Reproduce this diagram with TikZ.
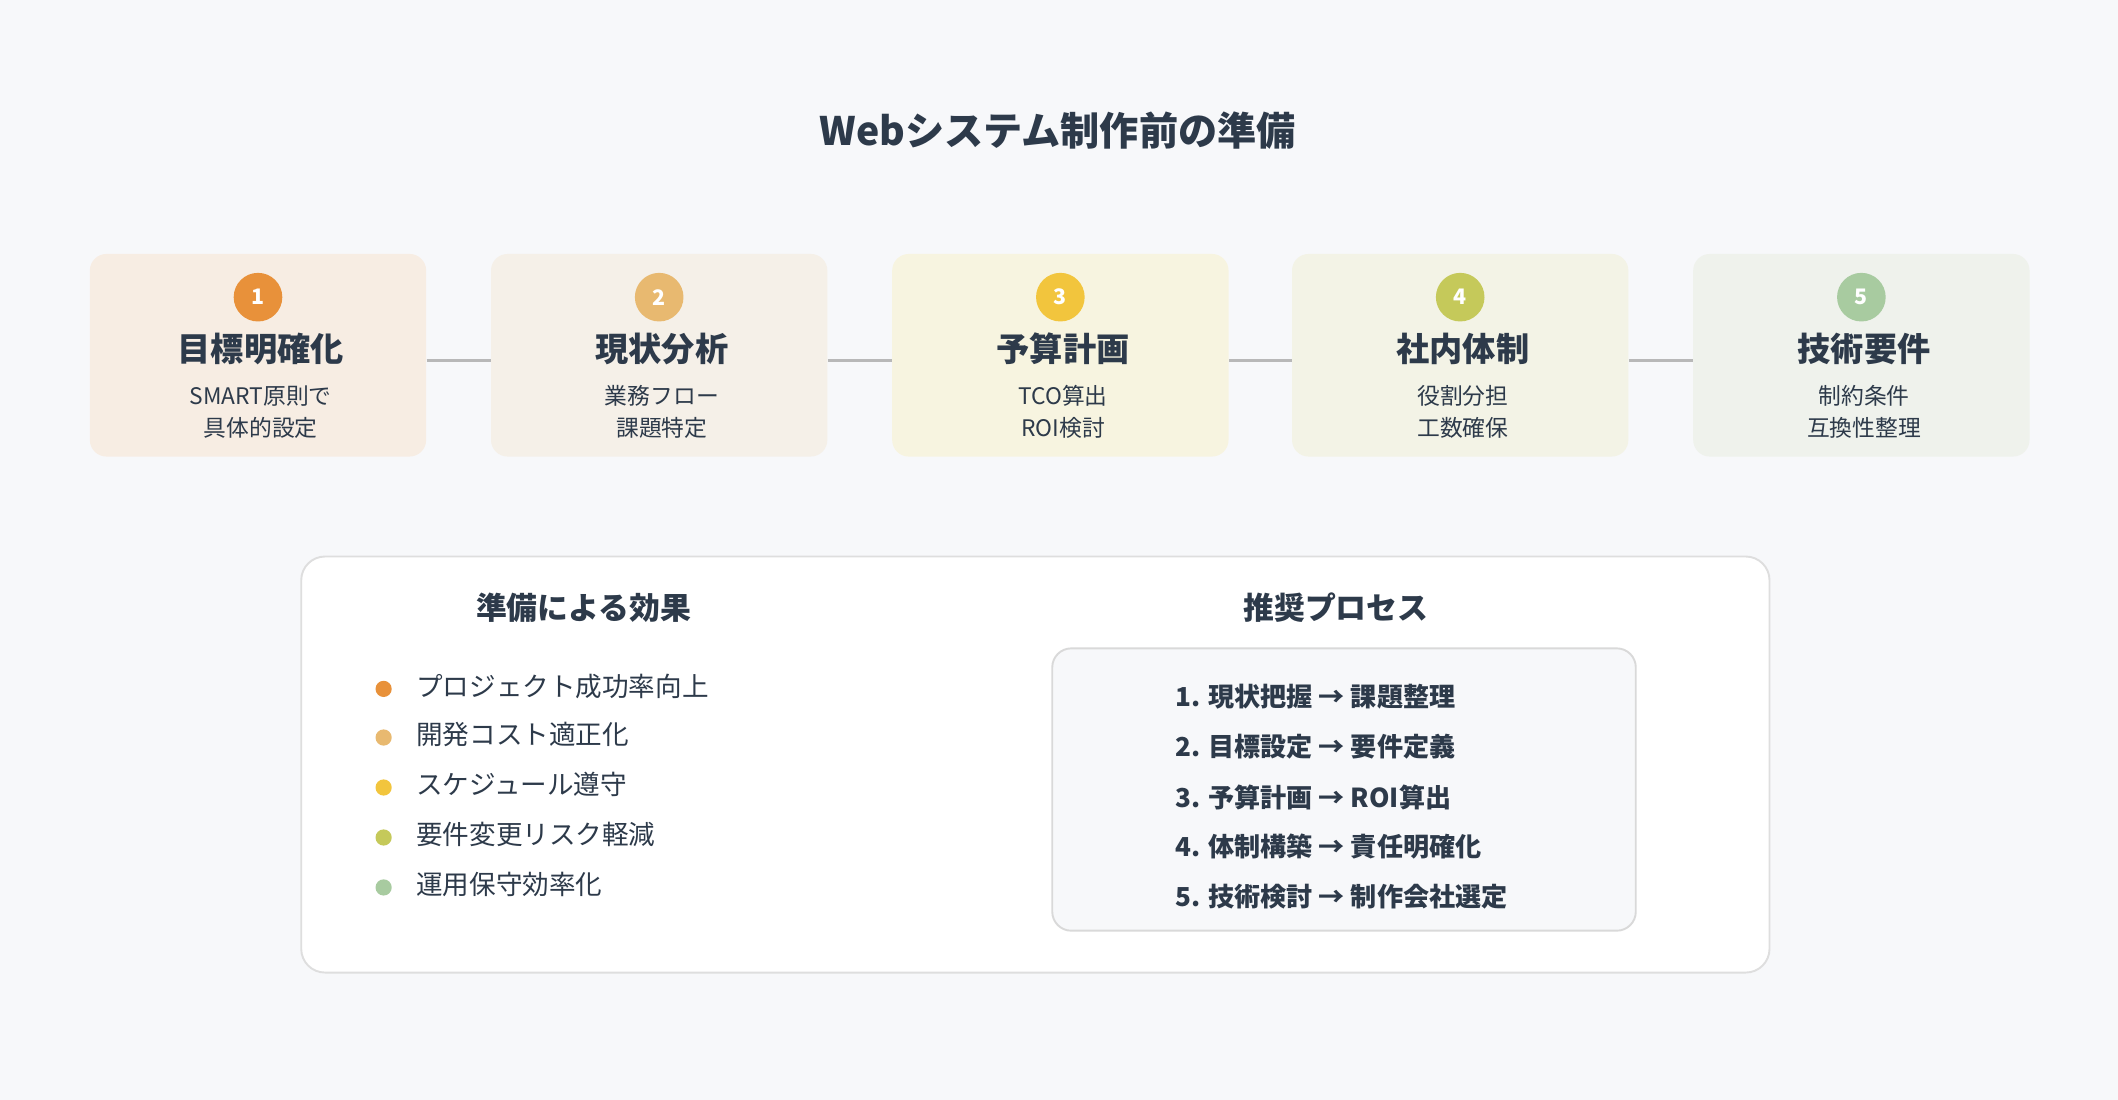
\documentclass[tikz,border=0pt]{standalone}
\usepackage{fontspec}
\setmainfont{Noto Sans CJK JP}
\usetikzlibrary{positioning}
\definecolor{ink}{HTML}{2D3A4A}
\definecolor{bg}{HTML}{F7F8FA}
\definecolor{cA}{HTML}{E8913A}\definecolor{fA}{HTML}{F7EDE3}
\definecolor{cB}{HTML}{E8B970}\definecolor{fB}{HTML}{F5F0E8}
\definecolor{cC}{HTML}{F2C53D}\definecolor{fC}{HTML}{F7F4E0}
\definecolor{cD}{HTML}{C5C95A}\definecolor{fD}{HTML}{F3F3E6}
\definecolor{cE}{HTML}{A8CBA0}\definecolor{fE}{HTML}{EFF2EC}
\tikzset{
  stepcard/.style={rounded corners=7pt, minimum width=249*0.02cm, minimum height=150*0.02cm, inner sep=0pt},
  badge/.style={circle, minimum size=36*0.02cm, inner sep=0pt, text=white, font=\bfseries\fontsize{9}{10}\selectfont},
  cardtitle/.style={text=ink, font=\bfseries\fontsize{14}{15}\selectfont},
  cardsub/.style={text=ink, font=\fontsize{9.6}{13.5}\selectfont, align=center},
  dot/.style={circle, minimum size=12*0.02cm, inner sep=0pt},
  item/.style={text=ink, anchor=west, font=\fontsize{11.2}{12}\selectfont},
  procline/.style={text=ink, anchor=west, font=\bfseries\fontsize{11}{12}\selectfont},
  heading/.style={text=ink, font=\bfseries\fontsize{13}{14}\selectfont},
  link/.style={draw=black!28, line width=1.4pt}
}
\begin{document}
\begin{tikzpicture}[x=0.02cm, y=-0.02cm]
\fill[bg] (0,0) rectangle (1568,814);
\node[text=ink, font=\bfseries\fontsize{16.5}{18}\selectfont] (title) at (783,97) {Webシステム制作前の準備};

% step cards
\foreach \i/\x/\c/\t/\sa/\sb in {1/191/A/目標明確化/SMART原則で/具体的設定,
    2/488/B/現状分析/業務フロー/課題特定,
    3/785/C/予算計画/TCO算出/ROI検討,
    4/1081/D/社内体制/役割分担/工数確保,
    5/1378/E/技術要件/制約条件/互換性整理}{
  \node[stepcard, fill=f\c] (card\i) at (\x,263) {};
  \node[badge, fill=c\c] (badge\i) at (\x,220) {\i};
  \node[cardtitle] (name\i) at (\x+2,258) {\t};
  \node[cardsub] (sub\i) at (\x+2,305) {\sa\\\sb};
}
\foreach \a/\b in {1/2,2/3,3/4,4/5}
  \draw[link] (card\a.east |- 0,267) -- (card\b.west |- 0,267);

% effects and process panel
\node[draw=black!13, fill=white, rounded corners=10pt, line width=0.8pt,
  minimum width=1087*0.02cm, minimum height=308*0.02cm] (panel) at (766.5,566) {};
\node[heading] (effhead) at (432,450) {準備による効果};
\node[heading] (prochead) at (989,450) {推奨プロセス};
\foreach \i/\y/\c/\t in {1/510/A/プロジェクト成功率向上, 2/546/B/開発コスト適正化,
    3/583/C/スケジュール遵守, 4/620/D/要件変更リスク軽減, 5/657/E/運用保守効率化}{
  \node[dot, fill=c\c] (dot\i) at (284,\y) {};
  \node[item] (eff\i) at (302,\y-2) {\t};
}
\node[draw=black!15, fill=bg, rounded corners=8pt, line width=0.8pt,
  minimum width=432*0.02cm, minimum height=209*0.02cm] (procbox) at (995,584.5) {};
\foreach \i/\y/\t in {1/516/1. 現状把握 → 課題整理, 2/553/2. 目標設定 → 要件定義,
    3/590/3. 予算計画 → ROI算出, 4/627/4. 体制構築 → 責任明確化, 5/664/5. 技術検討 → 制作会社選定}
  \node[procline] (proc\i) at (864,\y) {\t};
\end{tikzpicture}
\end{document}
